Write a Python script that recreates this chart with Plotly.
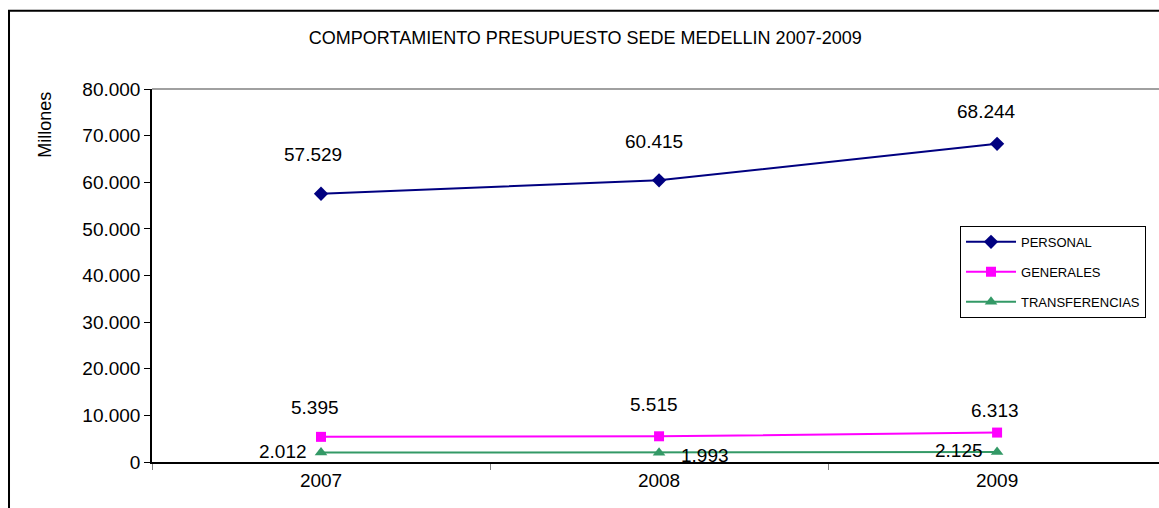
import plotly.graph_objects as go

years = ["2007", "2008", "2009"]
personal = [57529, 60415, 68244]
generales = [5395, 5515, 6313]
transferencias = [2012, 1993, 2125]
y_ticks = [0, 10000, 20000, 30000, 40000, 50000, 60000, 70000, 80000]


def fmt(v):
    return f"{v:,}".replace(",", ".")


fig = go.Figure()
series = [
    ("PERSONAL", personal, "#000080", "diamond", 11),
    ("GENERALES", generales, "#FF00FF", "square", 10),
    ("TRANSFERENCIAS", transferencias, "#339966", "triangle-up", 11),
]
for name, vals, color, sym, size in series:
    fig.add_trace(go.Scatter(
        x=years, y=vals, name=name, mode="lines+markers", legendgroup=name,
        line=dict(color=color, width=2),
        marker=dict(symbol=sym, size=size, color=color),
    ))

font = "Liberation Sans, Arial, sans-serif"
lbl = dict(size=19, color="black", family=font)
annotations = []
# label offsets (px) for each point, per series
p_shift = [(-8, 39), (-5, 39), (-11, 32)]
g_shift = [(-6, 29), (-5, 32), (-2, 22)]
t_shift = [(-38, 1), (46, -3), (-38, 2)]
for i in range(len(years)):
    for vals, shifts in ((personal, p_shift), (generales, g_shift), (transferencias, t_shift)):
        dx, dy = shifts[i]
        annotations.append(dict(x=i, y=vals[i], text=fmt(vals[i]), showarrow=False,
                                xshift=dx, yshift=dy, font=lbl))
annotations.append(dict(xref="paper", yref="paper", x=-0.106, y=0.905, xanchor="center",
                        yanchor="middle", text="Millones", textangle=-90, showarrow=False,
                        font=dict(size=18, color="black", family=font)))

fig.update_layout(
    width=1159, height=508,
    margin=dict(l=152, r=0, t=89, b=46),
    paper_bgcolor="white", plot_bgcolor="white",
    font=dict(family=font, color="black"),
    title=dict(text="COMPORTAMIENTO PRESUPUESTO SEDE MEDELLIN 2007-2009",
               x=0.505, xanchor="center", y=0.925, yanchor="middle",
               font=dict(size=18, color="black", family=font)),
    showlegend=True,
    legend=dict(x=0.8024, y=0.633, xanchor="left", yanchor="top",
                bgcolor="white", bordercolor="black", borderwidth=1,
                font=dict(size=13, color="black", family=font),
                itemwidth=50, tracegroupgap=10),
    annotations=annotations,
    shapes=[
        # outer chart frame
        dict(type="rect", xref="paper", yref="paper", x0=-0.142, x1=1.05, y0=-0.3, y1=1.21,
             line=dict(color="black", width=2), layer="below"),
        # top edge of the plot area
        dict(type="line", xref="paper", yref="paper", x0=0, x1=1, y0=1, y1=1,
             line=dict(color="#808080", width=1.5)),
    ],
)
fig.update_xaxes(
    type="category", range=[-0.5, 2.479], tickson="boundaries",
    showline=True, linecolor="black", linewidth=1.5,
    ticks="outside", ticklen=6, tickcolor="#808080",
    showgrid=False, zeroline=False,
    tickfont=dict(size=19, color="black", family=font),
)
fig.update_yaxes(
    range=[0, 80000], tickvals=y_ticks, ticktext=[fmt(v) for v in y_ticks],
    showline=True, linecolor="black", linewidth=1.5,
    ticks="outside", ticklen=6, tickcolor="black",
    showgrid=False, zeroline=False,
    tickfont=dict(size=19, color="black", family=font),
)
fig.write_html("out.html")
